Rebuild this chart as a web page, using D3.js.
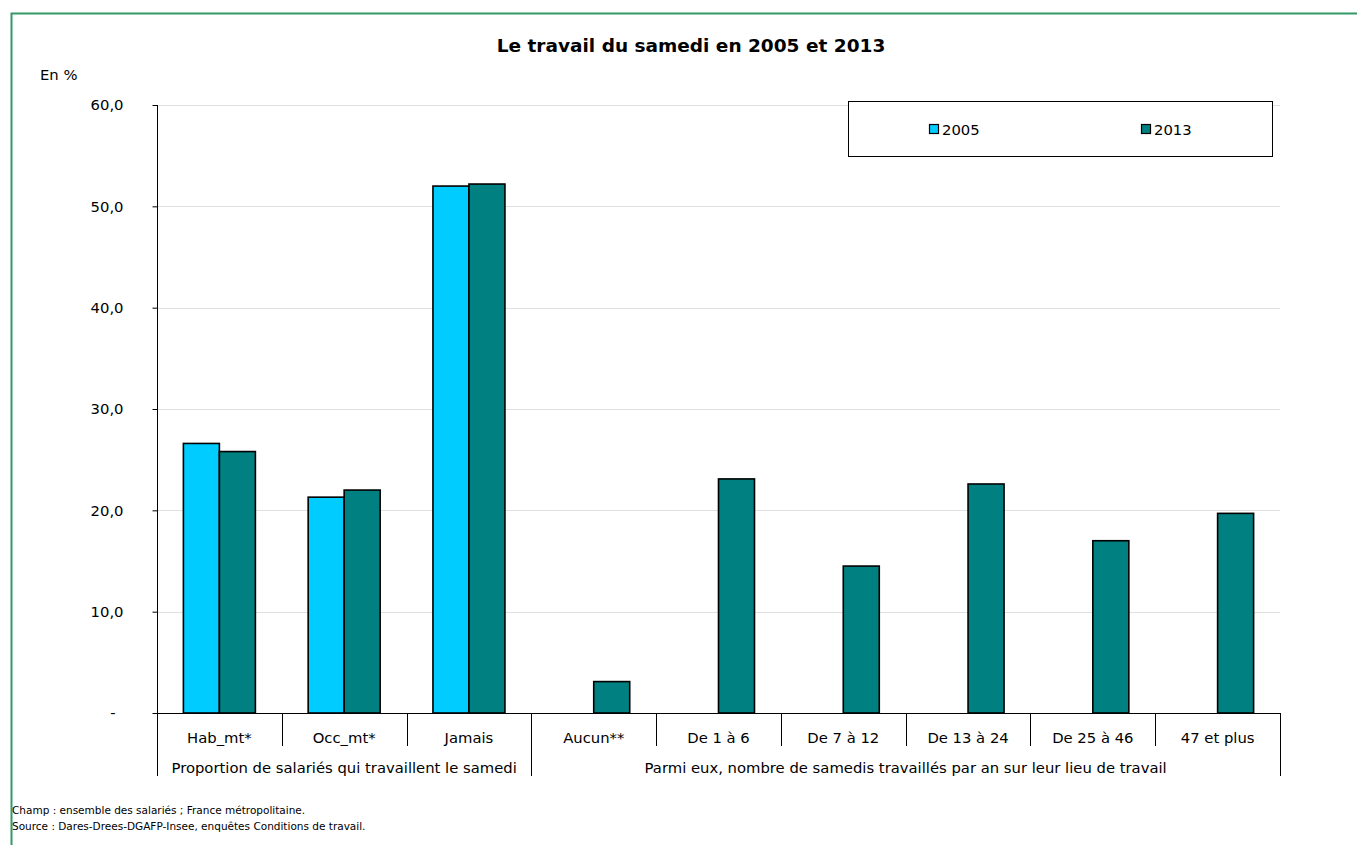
<!DOCTYPE html>
<html><head><meta charset="utf-8">
<script src="https://cdn.jsdelivr.net/npm/d3@7"></script>
<style>
html,body{margin:0;padding:0;background:#fff;}
svg{display:block;font-family:"DejaVu Sans",Verdana,sans-serif;}
</style></head>
<body>
<svg id="c" width="1357" height="845"></svg>
<script>
const categories = ["Hab_mt*","Occ_mt*","Jamais","Aucun**","De 1 à 6","De 7 à 12","De 13 à 24","De 25 à 46","47 et plus"];
const series = ["2005","2013"];
const values2005 = [26.6, 21.3, 52.0, null, null, null, null, null, null];
const values2013 = [25.8, 22.0, 52.2, 3.1, 23.1, 14.5, 22.6, 17.0, 19.7];
const groups = [
  {label:"Proportion de salariés qui travaillent le samedi", from:0, to:2},
  {label:"Parmi eux, nombre de samedis travaillés par an sur leur lieu de travail", from:3, to:8}
];
const yTicks = [0,10,20,30,40,50,60];
const colors = {"2005":"#00CCFF","2013":"#008080"};

(function(){
const svg = d3.select("#c");
const W = 1357, H = 845;
const pL = 157, pR = 1280, pT = 105, pB = 713;
const FS = 14.8;

// frame
svg.append("path").attr("d",`M11.5,${H} L11.5,13.5 L${W},13.5`).attr("fill","none").attr("stroke","#339966").attr("stroke-width",2);

const x = d3.scaleBand().domain(categories).range([pL,pR]).paddingInner(0).paddingOuter(0);
const x1 = d3.scaleBand().domain(series).range([x.bandwidth()/2-36, x.bandwidth()/2+36]);
const y = d3.scaleLinear().domain([0,60]).range([pB,pT]);

// gridlines
svg.append("g").selectAll("line").data(yTicks.filter(d=>d>0)).join("line")
  .attr("x1",pL).attr("x2",pR).attr("y1",d=>Math.round(y(d))+0.5).attr("y2",d=>Math.round(y(d))+0.5)
  .attr("stroke","#e0e0e0").attr("stroke-width",1);

// y axis
const yAxis = d3.axisLeft(y).tickValues(yTicks).tickSize(5).tickPadding(29)
  .tickFormat(d=> d===0 ? "-" : d3.format(".1f")(d).replace(".",","));
const gy = svg.append("g").attr("transform",`translate(${pL+0.5},0)`).call(yAxis);
gy.select(".domain").remove();
gy.selectAll(".tick line").attr("stroke","#000");
gy.selectAll(".tick text").attr("font-size",FS).attr("fill","#000").attr("font-family","DejaVu Sans, sans-serif");
gy.selectAll(".tick").filter(d=>d===0).select("text").attr("dx",-8);
svg.append("line").attr("x1",pL+0.5).attr("x2",pL+0.5).attr("y1",pT).attr("y2",776).attr("stroke","#000");

// bars
const data = categories.map((c,i)=>({cat:c, vals:[{s:"2005",v:values2005[i]},{s:"2013",v:values2013[i]}]}));
const gBars = svg.append("g").selectAll("g").data(data).join("g").attr("transform",d=>`translate(${x(d.cat)},0)`);
gBars.selectAll("rect").data(d=>d.vals.filter(e=>e.v!==null)).join("rect")
  .attr("x",d=>x1(d.s)).attr("width",x1.bandwidth())
  .attr("y",d=>y(d.v)).attr("height",d=>pB-y(d.v))
  .attr("fill",d=>colors[d.s]).attr("stroke","#000").attr("stroke-width",1.6);

// x axis line
svg.append("line").attr("x1",pL).attr("x2",pR).attr("y1",pB+0.5).attr("y2",pB+0.5).attr("stroke","#000");

// category labels
const xAxis = d3.axisBottom(x).tickSize(0).tickPadding(19);
const gx = svg.append("g").attr("transform",`translate(0,${pB})`).call(xAxis);
gx.select(".domain").remove();
gx.selectAll(".tick text").attr("font-size",FS).attr("fill","#000").attr("font-family","DejaVu Sans, sans-serif");
const bounds = categories.map(c=>x(c)).concat([pR]);
svg.append("g").selectAll("line").data(bounds).join("line")
  .attr("x1",d=>Math.round(d)+0.5).attr("x2",d=>Math.round(d)+0.5)
  .attr("y1",pB).attr("y2",(d,i)=> (i===0||i===3||i===categories.length)?776:746)
  .attr("stroke","#000");

// group labels
svg.append("g").selectAll("text").data(groups).join("text")
  .attr("x",d=>(x(categories[d.from])+x(categories[d.to])+x.bandwidth())/2)
  .attr("y",773).attr("text-anchor","middle").attr("font-size",FS).attr("fill","#000")
  .text(d=>d.label);

// title
svg.append("text").attr("x",691).attr("y",52).attr("text-anchor","middle")
  .attr("font-size",18.5).attr("font-weight","bold").attr("fill","#000")
  .text("Le travail du samedi en 2005 et 2013");
svg.append("text").attr("x",40).attr("y",80).attr("font-size",FS).attr("fill","#000").text("En %");

// legend
svg.append("rect").attr("x",848.5).attr("y",101.5).attr("width",424).attr("height",55).attr("fill","#fff").attr("stroke","#000");
const legX = [929,1141];
const leg = svg.append("g").selectAll("g").data(series).join("g").attr("transform",(d,i)=>`translate(${legX[i]},0)`);
leg.append("rect").attr("x",0.5).attr("y",124.5).attr("width",9).attr("height",9).attr("fill",d=>colors[d]).attr("stroke","#000").attr("stroke-width",1.2);
leg.append("text").attr("x",13).attr("y",134.5).attr("font-size",FS).attr("fill","#000").text(d=>d);

// footer
svg.append("text").attr("x",12).attr("y",814).attr("font-size",10.5).attr("fill","#000").text("Champ : ensemble des salariés ; France métropolitaine.");
svg.append("text").attr("x",12).attr("y",830).attr("font-size",10.5).attr("fill","#000").text("Source : Dares-Drees-DGAFP-Insee, enquêtes Conditions de travail.");
})();
</script>
</body></html>
